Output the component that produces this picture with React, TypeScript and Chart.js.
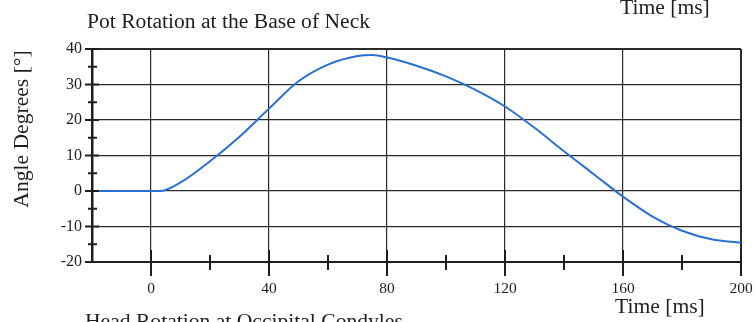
import React, { useEffect, useRef } from 'react';
import { Chart, registerables } from 'chart.js';

Chart.register(...registerables);

// ---- data ----
const timeMs = [-20, 0, 3, 10, 20, 30, 40, 50, 60, 70, 75, 80, 90, 100, 110, 120, 130, 140, 150, 160, 170, 180, 190, 200];
const angleDeg = [0, 0, 0, 2.4, 8.4, 15.3, 23.2, 30.9, 35.6, 38.0, 38.3, 37.6, 35.3, 32.3, 28.5, 23.8, 17.8, 11.2, 4.8, -1.6, -7.2, -11.2, -13.6, -14.6];

const xMajorTicks = [0, 40, 80, 120, 160, 200];
const xMinorTicks = [20, 60, 100, 140, 180];
const yMajorTicks = [-20, -10, 0, 10, 20, 30, 40];
const yMinorTicks = [-15, -5, 5, 15, 25, 35];

const chartTitle = 'Pot Rotation at the Base of Neck';
const xAxisTitle = 'Time [ms]';
const yAxisTitle = 'Angle Degrees [°]';
const prevPanelAxisTitle = 'Time [ms]';
const nextPanelTitle = 'Head Rotation at Occipital Condyles';

const SERIF = '"Liberation Serif", "DejaVu Serif", serif';
const INK = '#1e1e1e';

const decorPlugin = {
  id: 'decor',
  afterDraw(chart: any) {
    const { ctx, chartArea, scales } = chart;
    const xs = scales.x;
    const ys = scales.y;
    ctx.save();
    ctx.strokeStyle = INK;
    ctx.lineWidth = 2;
    // x-axis tick marks crossing the axis
    const yb = chartArea.bottom;
    xMajorTicks.forEach((v) => {
      const px = xs.getPixelForValue(v);
      ctx.beginPath();
      ctx.moveTo(px, yb - 12);
      ctx.lineTo(px, yb + 14);
      ctx.stroke();
    });
    xMinorTicks.forEach((v) => {
      const px = xs.getPixelForValue(v);
      ctx.beginPath();
      ctx.moveTo(px, yb - 7);
      ctx.lineTo(px, yb + 8);
      ctx.stroke();
    });
    // y-axis tick marks crossing the axis
    const xl = chartArea.left;
    yMajorTicks.forEach((v) => {
      const py = ys.getPixelForValue(v);
      ctx.beginPath();
      ctx.moveTo(xl - 7, py);
      ctx.lineTo(xl + 7, py);
      ctx.stroke();
    });
    yMinorTicks.forEach((v) => {
      const py = ys.getPixelForValue(v);
      ctx.beginPath();
      ctx.moveTo(xl - 4, py);
      ctx.lineTo(xl + 5, py);
      ctx.stroke();
    });

    // texts
    ctx.fillStyle = INK;
    ctx.font = `21.6px ${SERIF}`;
    ctx.textBaseline = 'alphabetic';
    ctx.textAlign = 'left';
    ctx.fillText(chartTitle, 87, 27.5);
    ctx.fillText(prevPanelAxisTitle, 620, 13.5);
    ctx.fillText(xAxisTitle, 615, 312.5);
    ctx.fillText(nextPanelTitle, 85, 328);

    ctx.save();
    ctx.translate(22, 129);
    ctx.rotate(-Math.PI / 2);
    ctx.textAlign = 'center';
    ctx.textBaseline = 'middle';
    ctx.fillText(yAxisTitle, 0, 0);
    ctx.restore();

    ctx.restore();
  },
};

export default function App() {
  const canvasRef = useRef<HTMLCanvasElement | null>(null);

  useEffect(() => {
    const canvas = canvasRef.current;
    if (!canvas) return;
    const points = timeMs.map((t, i) => ({ x: t, y: angleDeg[i] }));
    const chart = new Chart(canvas, {
      type: 'line',
      data: {
        datasets: [
          {
            data: points,
            borderColor: '#2b6fcf',
            borderWidth: 2,
            pointRadius: 0,
            cubicInterpolationMode: 'monotone',
            fill: false,
          },
        ],
      },
      options: {
        responsive: false,
        animation: false,
        layout: { padding: { left: 0, top: 49, right: 14, bottom: 0 } },
        plugins: {
          legend: { display: false },
          tooltip: { enabled: false },
          title: { display: false },
        },
        scales: {
          x: {
            type: 'linear',
            min: -20,
            max: 200,
            afterFit: (s: any) => {
              s.height = 60;
              s.paddingRight = 0;
              s.paddingLeft = 0;
            },
            ticks: {
              stepSize: 20,
              autoSkip: false,
              maxRotation: 0,
              padding: 18,
              color: INK,
              font: { family: SERIF, size: 15.5 },
              callback: (v: any) => (Number(v) % 40 === 0 && Number(v) >= 0 ? String(v) : ''),
            },
            grid: {
              drawTicks: false,
              color: (c: any) =>
                c.tick && xMajorTicks.includes(c.tick.value) ? '#2a2a2a' : 'rgba(0,0,0,0)',
              lineWidth: (c: any) => (c.tick && c.tick.value === 200 ? 2 : 1.2),
            },
            border: { color: INK, width: 2 },
          },
          y: {
            type: 'linear',
            min: -20,
            max: 40,
            afterFit: (s: any) => {
              s.width = 92;
              s.paddingTop = 0;
              s.paddingBottom = 0;
            },
            ticks: {
              stepSize: 5,
              autoSkip: false,
              padding: 10,
              color: INK,
              font: { family: SERIF, size: 16 },
              callback: (v: any) => (Number(v) % 10 === 0 ? String(v) : ''),
            },
            grid: {
              drawTicks: false,
              color: (c: any) =>
                c.tick && Number(c.tick.value) % 10 === 0 ? '#2a2a2a' : 'rgba(0,0,0,0)',
              lineWidth: (c: any) => (c.tick && c.tick.value === 40 ? 2 : 1.2),
            },
            border: { color: INK, width: 2.5 },
          },
        },
      },
      plugins: [decorPlugin],
    } as any);
    return () => chart.destroy();
  }, []);

  return (
    <div style={{ position: 'absolute', left: 0, top: 0, width: 755, height: 322, background: '#ffffff' }}>
      <canvas ref={canvasRef} width={755} height={322} style={{ display: 'block' }} />
    </div>
  );
}
